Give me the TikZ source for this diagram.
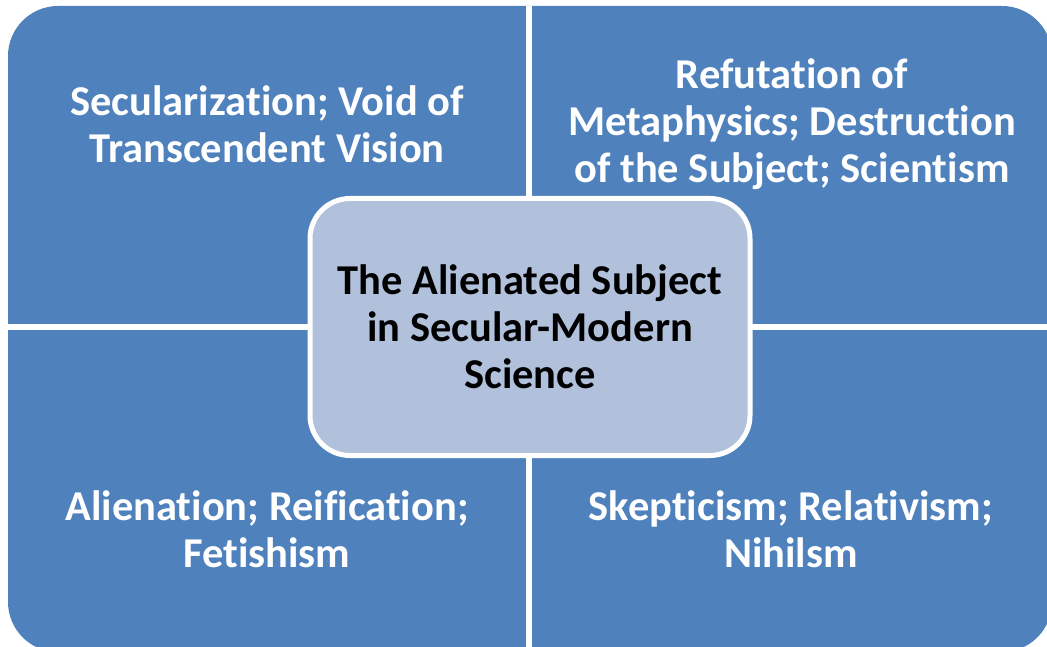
\documentclass[tikz,border=0pt]{standalone}
\usepackage{fontspec}
\setmainfont{Carlito}[RawFeature={-liga;-clig;-dlig;-calt}]
\usetikzlibrary{positioning}

\definecolor{quadblue}{HTML}{4F81BD}
\definecolor{coreblue}{HTML}{B1C1DC}

\begin{document}
\begin{tikzpicture}[x=1pt,y=-1pt,
        every node/.style={align=center,font=\bfseries\fontsize{42.5}{47}\selectfont},
        quadtext/.style={text=white},
        corebox/.style={draw=white,line width=5pt,fill=coreblue,rounded corners=40pt,
            minimum width=440pt,minimum height=257pt,text=black}]
        \useasboundingbox (0,0) rectangle (1047,647);
        \coordinate (nw) at (8,6);
        \coordinate (se) at (1052,652);
        \coordinate (mid) at (529,327);
        % the four quadrants: one rounded block cut by white gaps
        \fill[quadblue,rounded corners=50pt] (nw) rectangle (se);
        \draw[white,line width=6pt] (mid |- nw) -- (mid |- se);
        \draw[white,line width=6pt] (mid -| nw) -- (mid -| se);

        \node[quadtext] (secular) at (267,124) {Secularization; Void of\\Transcendent Vision};
        \node[quadtext] (refute) at (792,124) {Refutation of\\Metaphysics; Destruction\\of the Subject; Scientism};
        \node[quadtext] (alien) at (267,529) {Alienation; Reification;\\Fetishism};
        \node[quadtext] (skeptic) at (791,529) {Skepticism; Relativism;\\Nihilsm};

        \node[corebox] (core) at (530,327) {The Alienated Subject\\in Secular-Modern\\Science};
    \end{tikzpicture}
\end{document}
